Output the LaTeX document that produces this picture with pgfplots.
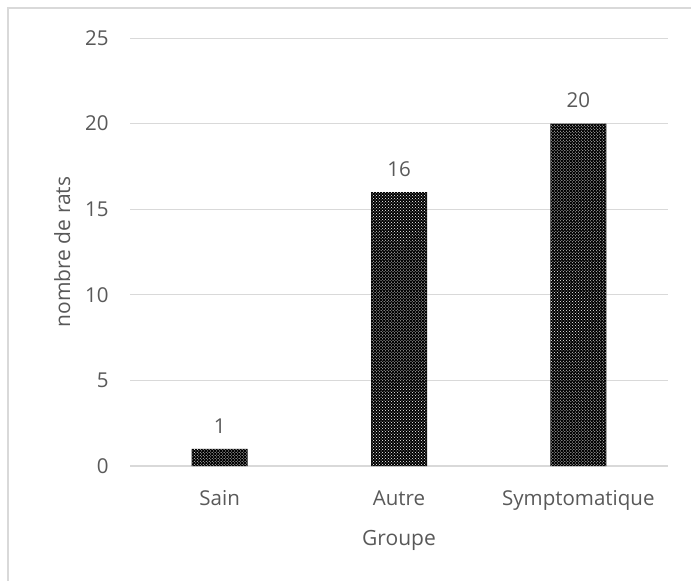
\documentclass[border=0pt]{standalone}
\usepackage{pgfplots}
\pgfplotsset{compat=1.18}
\usetikzlibrary{patterns}
\usepackage{fontspec}
\setmainfont{Open Sans}
\definecolor{txt}{HTML}{595959}
\definecolor{grd}{HTML}{D9D9D9}
\begin{document}
\begin{tikzpicture}
\useasboundingbox (0,0) rectangle (691bp,-581bp);
\draw[grd, line width=1.2bp] (8bp,-581bp) -- (8bp,-8bp) -- (691bp,-8bp);
\begin{axis}[
  at={(130bp,-466bp)}, anchor=south west,
  scale only axis, width=538bp, height=428bp,
  xmin=-0.5, xmax=2.5, ymin=0, ymax=25,
  ytick={0,5,...,25},
  xtick={0,1,2}, xticklabels={Sain,Autre,Symptomatique},
  axis line style={draw=none},
  major tick length=0pt,
  ymajorgrids, grid style={grd, line width=1bp},
  extra y ticks={0}, extra y tick style={grid style={grd, line width=1.2bp}, yticklabels={}},
  tick label style={font=\fontsize{20.5bp}{24bp}\selectfont, text=txt},
  /pgf/number format/assume math mode=true,
  yticklabel style={xshift=-18bp},
  xticklabel style={yshift=-21bp},
  ylabel={nombre de rats}, xlabel={Groupe},
  label style={font=\fontsize{21bp}{25bp}\selectfont, text=txt},
  ylabel style={at={(axis description cs:-0.126,0.5)}, anchor=center, rotate=0},
  xlabel style={at={(axis description cs:0.5,-0.173)}, anchor=center},
  clip=false,
]
\addplot[ybar, bar width=56bp, draw=none, fill=black,
  postaction={pattern=crosshatch dots, pattern color=white},
  nodes near coords, point meta=y,
  nodes near coords style={font=\fontsize{20.5bp}{24bp}\selectfont, text=txt, anchor=south, yshift=12bp}]
  coordinates {(0,1) (1,16) (2,20)};
\end{axis}
\end{tikzpicture}
\end{document}
